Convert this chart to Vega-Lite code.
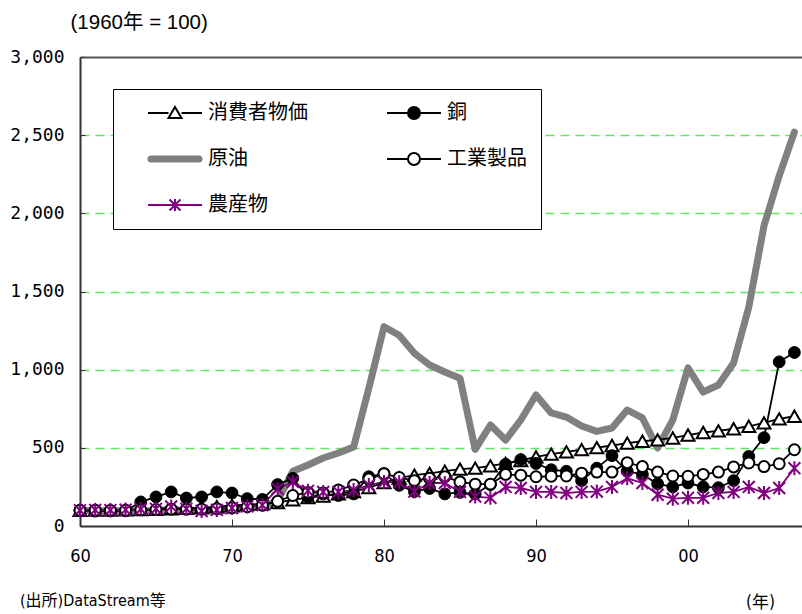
{
  "$schema": "https://vega.github.io/schema/vega-lite/v6.json",
  "width": 722,
  "height": 469,
  "autosize": {"type": "none"},
  "padding": {"left": 80, "top": 57, "right": 0, "bottom": 88},
  "background": "#ffffff",
  "config": {"view": {"stroke": null}, "font": "Noto Sans CJK JP"},
  "title": {
    "text": "(出所)DataStream等",
    "orient": "bottom",
    "anchor": "start",
    "frame": "group",
    "align": "left",
    "baseline": "middle",
    "dx": -60,
    "offset": -9,
    "font": "Liberation Sans Narrow, DejaVu Sans Condensed, Liberation Sans, Noto Sans CJK JP, sans-serif",
    "fontSize": 16,
    "fontWeight": "normal",
    "color": "#000000"
  },
  "data": {
    "values": [
      {"year": 1960, "series": "消費者物価", "value": 100}, {"year": 1961, "series": "消費者物価", "value": 101}, {"year": 1962, "series": "消費者物価", "value": 102}, {"year": 1963, "series": "消費者物価", "value": 103}, {"year": 1964, "series": "消費者物価", "value": 105}, {"year": 1965, "series": "消費者物価", "value": 106}, {"year": 1966, "series": "消費者物価", "value": 109}, {"year": 1967, "series": "消費者物価", "value": 113}, {"year": 1968, "series": "消費者物価", "value": 118}, {"year": 1969, "series": "消費者物価", "value": 124},
      {"year": 1970, "series": "消費者物価", "value": 131}, {"year": 1971, "series": "消費者物価", "value": 137}, {"year": 1972, "series": "消費者物価", "value": 141}, {"year": 1973, "series": "消費者物価", "value": 150}, {"year": 1974, "series": "消費者物価", "value": 167}, {"year": 1975, "series": "消費者物価", "value": 182}, {"year": 1976, "series": "消費者物価", "value": 192}, {"year": 1977, "series": "消費者物価", "value": 205}, {"year": 1978, "series": "消費者物価", "value": 220}, {"year": 1979, "series": "消費者物価", "value": 245},
      {"year": 1980, "series": "消費者物価", "value": 278}, {"year": 1981, "series": "消費者物価", "value": 307}, {"year": 1982, "series": "消費者物価", "value": 326}, {"year": 1983, "series": "消費者物価", "value": 336}, {"year": 1984, "series": "消費者物価", "value": 351}, {"year": 1985, "series": "消費者物価", "value": 364}, {"year": 1986, "series": "消費者物価", "value": 370}, {"year": 1987, "series": "消費者物価", "value": 384}, {"year": 1988, "series": "消費者物価", "value": 400}, {"year": 1989, "series": "消費者物価", "value": 419},
      {"year": 1990, "series": "消費者物価", "value": 442}, {"year": 1991, "series": "消費者物価", "value": 460}, {"year": 1992, "series": "消費者物価", "value": 474}, {"year": 1993, "series": "消費者物価", "value": 488}, {"year": 1994, "series": "消費者物価", "value": 501}, {"year": 1995, "series": "消費者物価", "value": 515}, {"year": 1996, "series": "消費者物価", "value": 530}, {"year": 1997, "series": "消費者物価", "value": 542}, {"year": 1998, "series": "消費者物価", "value": 551}, {"year": 1999, "series": "消費者物価", "value": 563},
      {"year": 2000, "series": "消費者物価", "value": 582}, {"year": 2001, "series": "消費者物価", "value": 598}, {"year": 2002, "series": "消費者物価", "value": 608}, {"year": 2003, "series": "消費者物価", "value": 622}, {"year": 2004, "series": "消費者物価", "value": 638}, {"year": 2005, "series": "消費者物価", "value": 660}, {"year": 2006, "series": "消費者物価", "value": 685}, {"year": 2007, "series": "消費者物価", "value": 702},

      {"year": 1960, "series": "銅", "value": 100}, {"year": 1961, "series": "銅", "value": 95}, {"year": 1962, "series": "銅", "value": 96}, {"year": 1963, "series": "銅", "value": 97}, {"year": 1964, "series": "銅", "value": 154}, {"year": 1965, "series": "銅", "value": 186}, {"year": 1966, "series": "銅", "value": 218}, {"year": 1967, "series": "銅", "value": 179}, {"year": 1968, "series": "銅", "value": 186}, {"year": 1969, "series": "銅", "value": 218},
      {"year": 1970, "series": "銅", "value": 211}, {"year": 1971, "series": "銅", "value": 175}, {"year": 1972, "series": "銅", "value": 170}, {"year": 1973, "series": "銅", "value": 265}, {"year": 1974, "series": "銅", "value": 305}, {"year": 1975, "series": "銅", "value": 185}, {"year": 1976, "series": "銅", "value": 205}, {"year": 1977, "series": "銅", "value": 195}, {"year": 1978, "series": "銅", "value": 205}, {"year": 1979, "series": "銅", "value": 315},
      {"year": 1980, "series": "銅", "value": 335}, {"year": 1981, "series": "銅", "value": 260}, {"year": 1982, "series": "銅", "value": 220}, {"year": 1983, "series": "銅", "value": 240}, {"year": 1984, "series": "銅", "value": 205}, {"year": 1985, "series": "銅", "value": 215}, {"year": 1986, "series": "銅", "value": 205}, {"year": 1987, "series": "銅", "value": 265}, {"year": 1988, "series": "銅", "value": 395}, {"year": 1989, "series": "銅", "value": 425},
      {"year": 1990, "series": "銅", "value": 400}, {"year": 1991, "series": "銅", "value": 360}, {"year": 1992, "series": "銅", "value": 350}, {"year": 1993, "series": "銅", "value": 290}, {"year": 1994, "series": "銅", "value": 370}, {"year": 1995, "series": "銅", "value": 450}, {"year": 1996, "series": "銅", "value": 350}, {"year": 1997, "series": "銅", "value": 330}, {"year": 1998, "series": "銅", "value": 270}, {"year": 1999, "series": "銅", "value": 250},
      {"year": 2000, "series": "銅", "value": 275}, {"year": 2001, "series": "銅", "value": 250}, {"year": 2002, "series": "銅", "value": 245}, {"year": 2003, "series": "銅", "value": 290}, {"year": 2004, "series": "銅", "value": 445}, {"year": 2005, "series": "銅", "value": 565}, {"year": 2006, "series": "銅", "value": 1050}, {"year": 2007, "series": "銅", "value": 1110},

      {"year": 1960, "series": "原油", "value": 100}, {"year": 1961, "series": "原油", "value": 98}, {"year": 1962, "series": "原油", "value": 98}, {"year": 1963, "series": "原油", "value": 98}, {"year": 1964, "series": "原油", "value": 96}, {"year": 1965, "series": "原油", "value": 96}, {"year": 1966, "series": "原油", "value": 96}, {"year": 1967, "series": "原油", "value": 96}, {"year": 1968, "series": "原油", "value": 96}, {"year": 1969, "series": "原油", "value": 96},
      {"year": 1970, "series": "原油", "value": 98}, {"year": 1971, "series": "原油", "value": 118}, {"year": 1972, "series": "原油", "value": 125}, {"year": 1973, "series": "原油", "value": 160}, {"year": 1974, "series": "原油", "value": 350}, {"year": 1975, "series": "原油", "value": 390}, {"year": 1976, "series": "原油", "value": 435}, {"year": 1977, "series": "原油", "value": 467}, {"year": 1978, "series": "原油", "value": 505}, {"year": 1979, "series": "原油", "value": 880},
      {"year": 1980, "series": "原油", "value": 1275}, {"year": 1981, "series": "原油", "value": 1220}, {"year": 1982, "series": "原油", "value": 1105}, {"year": 1983, "series": "原油", "value": 1030}, {"year": 1984, "series": "原油", "value": 985}, {"year": 1985, "series": "原油", "value": 945}, {"year": 1986, "series": "原油", "value": 490}, {"year": 1987, "series": "原油", "value": 646}, {"year": 1988, "series": "原油", "value": 550}, {"year": 1989, "series": "原油", "value": 678},
      {"year": 1990, "series": "原油", "value": 838}, {"year": 1991, "series": "原油", "value": 723}, {"year": 1992, "series": "原油", "value": 697}, {"year": 1993, "series": "原油", "value": 640}, {"year": 1994, "series": "原油", "value": 605}, {"year": 1995, "series": "原油", "value": 627}, {"year": 1996, "series": "原油", "value": 742}, {"year": 1997, "series": "原油", "value": 691}, {"year": 1998, "series": "原油", "value": 499}, {"year": 1999, "series": "原油", "value": 678},
      {"year": 2000, "series": "原油", "value": 1011}, {"year": 2001, "series": "原油", "value": 857}, {"year": 2002, "series": "原油", "value": 902}, {"year": 2003, "series": "原油", "value": 1043}, {"year": 2004, "series": "原油", "value": 1400}, {"year": 2005, "series": "原油", "value": 1920}, {"year": 2006, "series": "原油", "value": 2240}, {"year": 2007, "series": "原油", "value": 2520},

      {"year": 1960, "series": "工業製品", "value": 100}, {"year": 1961, "series": "工業製品", "value": 101}, {"year": 1962, "series": "工業製品", "value": 100}, {"year": 1963, "series": "工業製品", "value": 101}, {"year": 1964, "series": "工業製品", "value": 103}, {"year": 1965, "series": "工業製品", "value": 105}, {"year": 1966, "series": "工業製品", "value": 108}, {"year": 1967, "series": "工業製品", "value": 108}, {"year": 1968, "series": "工業製品", "value": 107}, {"year": 1969, "series": "工業製品", "value": 111},
      {"year": 1970, "series": "工業製品", "value": 117}, {"year": 1971, "series": "工業製品", "value": 123}, {"year": 1972, "series": "工業製品", "value": 133}, {"year": 1973, "series": "工業製品", "value": 158}, {"year": 1974, "series": "工業製品", "value": 195}, {"year": 1975, "series": "工業製品", "value": 215}, {"year": 1976, "series": "工業製品", "value": 212}, {"year": 1977, "series": "工業製品", "value": 230}, {"year": 1978, "series": "工業製品", "value": 262}, {"year": 1979, "series": "工業製品", "value": 300},
      {"year": 1980, "series": "工業製品", "value": 335}, {"year": 1981, "series": "工業製品", "value": 310}, {"year": 1982, "series": "工業製品", "value": 290}, {"year": 1983, "series": "工業製品", "value": 305}, {"year": 1984, "series": "工業製品", "value": 315}, {"year": 1985, "series": "工業製品", "value": 282}, {"year": 1986, "series": "工業製品", "value": 268}, {"year": 1987, "series": "工業製品", "value": 268}, {"year": 1988, "series": "工業製品", "value": 330}, {"year": 1989, "series": "工業製品", "value": 325},
      {"year": 1990, "series": "工業製品", "value": 315}, {"year": 1991, "series": "工業製品", "value": 318}, {"year": 1992, "series": "工業製品", "value": 320}, {"year": 1993, "series": "工業製品", "value": 338}, {"year": 1994, "series": "工業製品", "value": 345}, {"year": 1995, "series": "工業製品", "value": 345}, {"year": 1996, "series": "工業製品", "value": 405}, {"year": 1997, "series": "工業製品", "value": 380}, {"year": 1998, "series": "工業製品", "value": 345}, {"year": 1999, "series": "工業製品", "value": 320},
      {"year": 2000, "series": "工業製品", "value": 318}, {"year": 2001, "series": "工業製品", "value": 330}, {"year": 2002, "series": "工業製品", "value": 345}, {"year": 2003, "series": "工業製品", "value": 378}, {"year": 2004, "series": "工業製品", "value": 403}, {"year": 2005, "series": "工業製品", "value": 380}, {"year": 2006, "series": "工業製品", "value": 398}, {"year": 2007, "series": "工業製品", "value": 488},

      {"year": 1960, "series": "農産物", "value": 100}, {"year": 1961, "series": "農産物", "value": 103}, {"year": 1962, "series": "農産物", "value": 102}, {"year": 1963, "series": "農産物", "value": 104}, {"year": 1964, "series": "農産物", "value": 108}, {"year": 1965, "series": "農産物", "value": 110}, {"year": 1966, "series": "農産物", "value": 125}, {"year": 1967, "series": "農産物", "value": 110}, {"year": 1968, "series": "農産物", "value": 96}, {"year": 1969, "series": "農産物", "value": 103},
      {"year": 1970, "series": "農産物", "value": 115}, {"year": 1971, "series": "農産物", "value": 125}, {"year": 1972, "series": "農産物", "value": 134}, {"year": 1973, "series": "農産物", "value": 238}, {"year": 1974, "series": "農産物", "value": 282}, {"year": 1975, "series": "農産物", "value": 225}, {"year": 1976, "series": "農産物", "value": 218}, {"year": 1977, "series": "農産物", "value": 218}, {"year": 1978, "series": "農産物", "value": 230}, {"year": 1979, "series": "農産物", "value": 262},
      {"year": 1980, "series": "農産物", "value": 282}, {"year": 1981, "series": "農産物", "value": 280}, {"year": 1982, "series": "農産物", "value": 220}, {"year": 1983, "series": "農産物", "value": 275}, {"year": 1984, "series": "農産物", "value": 275}, {"year": 1985, "series": "農産物", "value": 218}, {"year": 1986, "series": "農産物", "value": 188}, {"year": 1987, "series": "農産物", "value": 180}, {"year": 1988, "series": "農産物", "value": 250}, {"year": 1989, "series": "農産物", "value": 243},
      {"year": 1990, "series": "農産物", "value": 218}, {"year": 1991, "series": "農産物", "value": 218}, {"year": 1992, "series": "農産物", "value": 211}, {"year": 1993, "series": "農産物", "value": 218}, {"year": 1994, "series": "農産物", "value": 220}, {"year": 1995, "series": "農産物", "value": 250}, {"year": 1996, "series": "農産物", "value": 305}, {"year": 1997, "series": "農産物", "value": 275}, {"year": 1998, "series": "農産物", "value": 200}, {"year": 1999, "series": "農産物", "value": 175},
      {"year": 2000, "series": "農産物", "value": 180}, {"year": 2001, "series": "農産物", "value": 180}, {"year": 2002, "series": "農産物", "value": 211}, {"year": 2003, "series": "農産物", "value": 218}, {"year": 2004, "series": "農産物", "value": 250}, {"year": 2005, "series": "農産物", "value": 211}, {"year": 2006, "series": "農産物", "value": 243}, {"year": 2007, "series": "農産物", "value": 370}
    ]
  },
  "encoding": {
    "x": {
      "field": "year",
      "type": "quantitative",
      "scale": {"domain": [1960, 2007.5], "nice": false, "zero": false},
      "axis": {
        "values": [1960, 1970, 1980, 1990, 2000],
        "labelExpr": "slice(format(datum.value, 'd'), 2)",
        "grid": false,
        "domainColor": "#333333",
        "domainWidth": 2,
        "tickColor": "#333333",
        "tickWidth": 1,
        "tickSize": -7,
        "labelPadding": 28,
        "labelFont": "Liberation Sans Narrow, DejaVu Sans Condensed, Liberation Sans, sans-serif",
        "labelFontSize": 18,
        "labelColor": "#000000",
        "labelFlush": false,
        "labelAngle": 0,
        "title": "(年)",
        "titleX": 680,
        "titleY": 76,
        "titleAlign": "center",
        "titleBaseline": "middle",
        "titleFont": "Liberation Sans Narrow, DejaVu Sans Condensed, Liberation Sans, Noto Sans CJK JP, sans-serif",
        "titleFontSize": 17,
        "titleFontWeight": "normal",
        "titleColor": "#000000"
      }
    },
    "y": {
      "field": "value",
      "type": "quantitative",
      "scale": {"domain": [0, 3000], "nice": false},
      "axis": {
        "values": [0, 500, 1000, 1500, 2000, 2500, 3000],
        "format": ",.0f",
        "grid": true,
        "gridColor": {"condition": {"test": "datum.value === 3000", "value": "#555555"}, "value": "#5fe85f"},
        "gridDash": {"condition": {"test": "datum.value === 3000", "value": []}, "value": [9, 6]},
        "gridWidth": {"condition": {"test": "datum.value === 3000", "value": 2}, "value": 1.3},
        "gridOpacity": {"condition": {"test": "datum.value === 0", "value": 0}, "value": 1},
        "domainColor": "#333333",
        "domainWidth": 2,
        "tickColor": "#333333",
        "tickSize": -5,
        "labelPadding": 21,
        "labelFont": "DejaVu Sans Mono",
        "labelFontSize": 18,
        "labelColor": "#000000",
        "title": "(1960年 = 100)",
        "titleAngle": 0,
        "titleX": -10,
        "titleY": -35,
        "titleAlign": "left",
        "titleBaseline": "middle",
        "titleFont": "Liberation Sans, Noto Sans CJK JP, sans-serif",
        "titleFontSize": 20.5,
        "titleFontWeight": "normal",
        "titleColor": "#000000"
      }
    }
  },
  "layer": [
    {
      "transform": [{"filter": "datum.series === '原油'"}],
      "mark": {"type": "line", "strokeWidth": 7, "strokeJoin": "round", "strokeCap": "round"},
      "encoding": {
        "color": {
          "field": "series",
          "type": "nominal",
          "scale": {
            "domain": ["消費者物価", "銅", "原油", "工業製品", "農産物"],
            "range": ["#000000", "#000000", "#808080", "#000000", "#800080"]
          },
          "legend": {
            "title": null,
            "orient": "none",
            "legendX": 33,
            "legendY": 32,
            "direction": "horizontal",
            "columns": 2,
            "padding": 14,
            "rowPadding": 22,
            "columnPadding": 58,
            "symbolSize": 400,
            "symbolOffset": 38,
            "labelOffset": 23,
            "labelFont": "Noto Sans CJK JP",
            "labelFontSize": 20,
            "labelColor": "#000000",
            "labelLimit": 0,
            "strokeColor": "#000000",
            "fillColor": "#ffffff",
            "encode": {
              "symbols": {
                "update": {
                  "shape": {"signal": "datum.value === '原油' ? 'M-2.4,0H2.4' : datum.value === '消費者物価' ? 'M-2.7,0H-0.65M0.65,0H2.7M0,-0.6L0.65,0.5L-0.65,0.5Z' : datum.value === '農産物' ? 'M-2.7,0H2.7M0,-0.6V0.6M-0.55,-0.55L0.55,0.55M-0.55,0.55L0.55,-0.55' : 'M-2.7,0H-0.6M0.6,0H2.7M-0.6,0A0.6,0.6,0,1,0,0.6,0A0.6,0.6,0,1,0,-0.6,0Z'"},
                  "fill": {"signal": "datum.value === '銅' ? '#000000' : (datum.value === '消費者物価' || datum.value === '工業製品') ? '#ffffff' : 'transparent'"},
                  "stroke": {"signal": "datum.value === '原油' ? '#808080' : datum.value === '農産物' ? '#800080' : '#000000'"},
                  "strokeWidth": {"signal": "datum.value === '原油' ? 7 : 2"},
                  "strokeCap": {"signal": "datum.value === '原油' ? 'round' : 'butt'"},
                  "size": {"value": 400},
                  "opacity": {"value": 1}
                }
              }
            }
          }
        }
      }
    },
    {
      "transform": [{"filter": "datum.series !== '原油'"}],
      "mark": {"type": "line", "strokeWidth": 1.8},
      "encoding": {
        "color": {"field": "series", "type": "nominal"}
      }
    },
    {
      "transform": [{"filter": "datum.series === '消費者物価'"}],
      "mark": {"type": "point", "shape": "triangle-up", "size": 170, "filled": true, "fill": "#ffffff", "stroke": "#000000", "strokeWidth": 2, "opacity": 1}
    },
    {
      "transform": [{"filter": "datum.series === '銅'"}],
      "mark": {"type": "point", "shape": "circle", "size": 140, "filled": true, "fill": "#000000", "stroke": "#000000", "strokeWidth": 1, "opacity": 1}
    },
    {
      "transform": [{"filter": "datum.series === '工業製品'"}],
      "mark": {"type": "point", "shape": "circle", "size": 120, "filled": true, "fill": "#ffffff", "stroke": "#000000", "strokeWidth": 2, "opacity": 1}
    },
    {
      "transform": [{"filter": "datum.series === '農産物'"}],
      "mark": {"type": "point", "shape": "M0,-1V1M-0.85,-0.85L0.85,0.85M-0.85,0.85L0.85,-0.85", "size": 196, "filled": false, "stroke": "#800080", "strokeWidth": 2, "opacity": 1}
    }
  ]
}
